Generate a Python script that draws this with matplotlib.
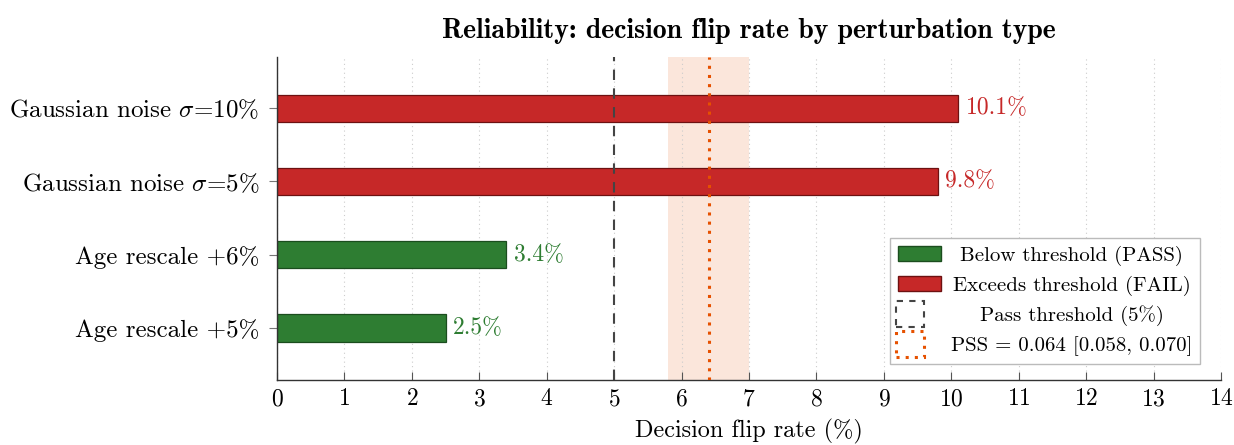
import matplotlib
matplotlib.use('Agg')
from matplotlib import pyplot as plt
from matplotlib.patches import Patch, Rectangle
from matplotlib.legend_handler import HandlerPatch

# Daten
categories = ['Age rescale +5%', 'Age rescale +6%',
              r'Gaussian noise $\sigma$=5%', r'Gaussian noise $\sigma$=10%']
flip_rates = [2.5, 3.4, 9.8, 10.1]
threshold = 5.0
pss = 6.4
pss_ci = [5.8, 7.0]
x_ticks = list(range(0, 15))

plt.rcParams['font.family'] = ['cmr10', 'DejaVu Serif']
plt.rcParams['mathtext.fontset'] = 'cm'
plt.rcParams['axes.formatter.use_mathtext'] = True
plt.rcParams['axes.unicode_minus'] = False

green = '#2e7d32'
red = '#c62828'
orange = '#e65100'

fig, ax = plt.subplots(figsize=(12.34, 4.45), dpi=100)
fig.subplots_adjust(left=0.2245, right=0.9895, top=0.872, bottom=0.146)

colors = [green if v < threshold else red for v in flip_rates]
edges = ['#1b4d1e' if v < threshold else '#6d1111' for v in flip_rates]
ypos = list(range(len(categories)))

ax.axvspan(pss_ci[0], pss_ci[1], color='#f8d3bf', alpha=0.55, lw=0, zorder=0)
ax.barh(ypos, flip_rates, height=0.37, color=colors, edgecolor=edges, linewidth=0.9, zorder=2)
ax.axvline(threshold, color='#444444', ls=(0, (5, 4)), lw=1.5, zorder=3)
ax.axvline(pss, color=orange, ls=(0, (1, 2)), lw=2.2, zorder=3)

for y, v, c in zip(ypos, flip_rates, colors):
    ax.text(v + 0.11, y, f'{v:.1f}%', color=c, va='center', ha='left', fontsize=17)

ax.set_xlim(0, 14)
ax.set_ylim(-0.71, 3.7)
ax.set_xticks(x_ticks)
ax.set_yticks(ypos)
ax.set_yticklabels(categories, fontsize=18)
ax.tick_params(axis='x', direction='in', length=6, pad=6, labelsize=17, color='#555555')
ax.tick_params(axis='y', direction='out', length=6, pad=7, color='#777777')
ax.xaxis.grid(True, ls=(0, (1, 3)), color='#cccccc', lw=0.8, zorder=0)
ax.set_axisbelow(True)
for s in ['top', 'right']:
    ax.spines[s].set_visible(False)
for s in ['left', 'bottom']:
    ax.spines[s].set_color('#333333')
    ax.spines[s].set_linewidth(1.0)

ax.set_xlabel('Decision flip rate (%)', fontsize=17.5, labelpad=6)
ax.set_title('Reliability: decision flip rate by perturbation type',
             fontsize=20, fontfamily='cmb10', pad=14)


def small_box(legend, orig_handle, xdescent, ydescent, width, height, fontsize):
    return Rectangle((-xdescent - 1, -ydescent - 4), 20, height + 8)


handles = [
    Patch(facecolor=green, edgecolor='#1b4d1e', label='Below threshold (PASS)'),
    Patch(facecolor=red, edgecolor='#6d1111', label='Exceeds threshold (FAIL)'),
    Patch(facecolor='none', edgecolor='#444444', ls=(0, (3, 3)), lw=1.5, label='Pass threshold (5%)'),
    Patch(facecolor='none', edgecolor=orange, ls=(0, (1, 2)), lw=2.2, label='PSS = 0.064 [0.058, 0.070]'),
]
leg = ax.legend(handles=handles, loc='lower right', bbox_to_anchor=(0.978, 0.05),
                borderaxespad=0, fontsize=15, frameon=True, fancybox=False,
                edgecolor='#bbbbbb', framealpha=1, handlelength=2.1, handleheight=0.7,
                handletextpad=0.45, labelspacing=0.47, borderpad=0.38,
                handler_map={handles[2]: HandlerPatch(patch_func=small_box),
                             handles[3]: HandlerPatch(patch_func=small_box)})
leg.get_frame().set_linewidth(1.0)

# Legendentexte zentrieren
fig.canvas.draw()
widths = [t.get_window_extent().width for t in leg.get_texts()]
for t, w in zip(leg.get_texts(), widths):
    t.set_x((max(widths) - w) / 2)

plt.savefig('out.png', dpi=100)
